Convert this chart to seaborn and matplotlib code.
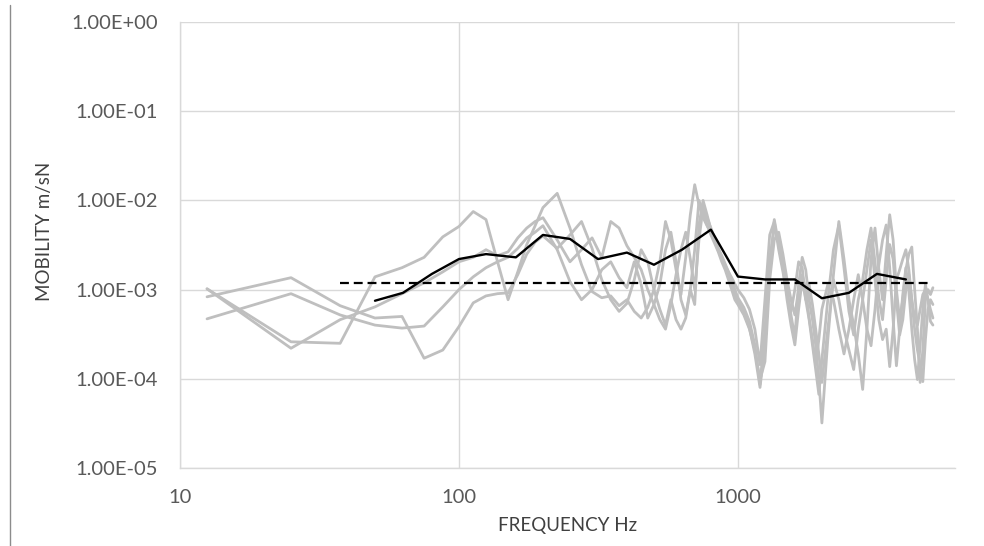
import matplotlib
matplotlib.use("Agg")
import matplotlib.pyplot as plt
from matplotlib.lines import Line2D
from matplotlib.ticker import FixedLocator, FixedFormatter, NullLocator
import numpy as np
import pandas as pd
import seaborn as sns

# Narrowband frequency grid shared by the individual measurements (Hz)
freq_hz = [
    12.5, 25, 37.5, 50, 62.5, 75, 87.5, 100, 112.5, 125, 137.5, 150, 162.5, 175, 187.5, 200,
    225, 250, 275, 300, 325, 350, 375, 400, 425, 450, 475, 500,
    525, 550, 575, 600, 625, 650, 675, 700, 725, 750, 775, 800, 825, 850, 875, 900, 925, 950, 975, 1000,
    1050, 1100, 1150, 1200, 1250, 1300, 1350, 1400, 1450, 1500, 1550, 1600, 1650, 1700, 1750, 1800,
    1850, 1900, 1950, 2000,
    2100, 2200, 2300, 2400, 2500, 2600, 2700, 2800, 2900, 3000, 3100, 3200, 3300, 3400, 3500, 3600,
    3700, 3800, 3900, 4000, 4100, 4200, 4300, 4400, 4500, 4600, 4700, 4800, 4900, 5000,
]

# Individual mobility measurements (m/sN)
meas_a = [
    1.02e-3, 2.6e-4, 2.5e-4, 1.39e-3, 1.76e-3, 2.3e-3, 3.9e-3, 5.1e-3, 7.5e-3, 6.1e-3, 2.05e-3, 7.7e-4, 1.58e-3, 3.2e-3, 5.2e-3, 8.3e-3,
    1.2e-2, 4.9e-3, 1.9e-3, 9.5e-4, 8.1e-4, 8.5e-4, 6.6e-4, 7.7e-4, 5.7e-4, 4.8e-4, 6.3e-4, 1.0e-3,
    2.05e-3, 5.8e-3, 3.6e-3, 1.67e-3, 8.8e-4, 2.3e-3, 6.9e-3, 1.5e-2, 8.9e-3, 6.4e-3, 5.2e-3, 4.4e-3, 3.6e-3, 2.9e-3, 2.4e-3, 1.95e-3, 1.58e-3, 1.26e-3, 1.0e-3, 8.1e-4,
    6.3e-4, 4.4e-4, 2.4e-4, 8.6e-5, 3.6e-4, 2.2e-3, 4.9e-3, 3.8e-3, 2.05e-3, 1.0e-3, 5.2e-4, 2.9e-4, 1.14e-3, 2.3e-3, 1.67e-3, 7.7e-4,
    4.6e-4, 2.4e-4, 9.8e-5, 3.2e-5,
    2.75e-4, 1.47e-3, 5.8e-3, 2.2e-3, 7.7e-4, 4.0e-4, 1.9e-4, 7.6e-5, 3.6e-4, 2.2e-3, 4.9e-3, 1.67e-3, 7.7e-4, 2.5e-3, 6.9e-3, 3.6e-3,
    1.0e-3, 4.6e-4, 7.7e-4, 1.67e-3, 2.5e-3, 3.0e-3, 1.0e-3, 3.6e-4, 9.1e-5, 2.1e-4, 7.7e-4, 1.0e-3, 8.8e-4, 1.05e-3,
]
meas_b = [
    1.02e-3, 2.2e-4, 4.6e-4, 6.4e-4, 9.0e-4, 1.19e-3, 1.58e-3, 2.05e-3, 2.3e-3, 2.8e-3, 2.4e-3, 2.65e-3, 3.8e-3, 4.9e-3, 5.8e-3, 6.4e-3,
    3.6e-3, 2.05e-3, 2.8e-3, 3.8e-3, 2.3e-3, 5.8e-3, 4.9e-3, 3.1e-3, 2.3e-3, 1.67e-3, 1.0e-3, 6.8e-4,
    4.6e-4, 3.6e-4, 6.8e-4, 1.47e-3, 2.8e-3, 4.4e-3, 2.2e-3, 1.0e-3, 3.6e-3, 8.3e-3, 6.4e-3, 4.9e-3, 3.8e-3, 2.8e-3, 2.3e-3, 1.85e-3, 1.58e-3, 1.36e-3, 1.16e-3, 1.0e-3,
    8.1e-4, 6.0e-4, 3.6e-4, 1.44e-4, 7.7e-4, 4.1e-3, 5.8e-3, 2.8e-3, 1.58e-3, 8.8e-4, 5.7e-4, 1.0e-3, 2.05e-3, 1.76e-3, 7.7e-4, 4.6e-4,
    2.4e-4, 1.27e-4, 6.7e-5, 1.64e-4,
    7.7e-4, 2.8e-3, 5.3e-3, 1.76e-3, 5.7e-4, 3.1e-4, 7.7e-4, 1.29e-3, 2.8e-3, 4.9e-3, 2.05e-3, 8.1e-4, 4.6e-4, 1.29e-3, 3.2e-3, 2.2e-3,
    7.7e-4, 3.1e-4, 4.6e-4, 1.0e-3, 1.47e-3, 7.7e-4, 4.8e-4, 4.0e-4, 6.0e-4, 8.8e-4, 1.0e-3, 7.7e-4, 6.0e-4, 4.8e-4,
]
meas_c = [
    4.7e-4, 9.0e-4, 5.2e-4, 4.0e-4, 3.7e-4, 3.9e-4, 6.4e-4, 1.0e-3, 1.39e-3, 1.76e-3, 2.05e-3, 2.3e-3, 2.9e-3, 3.8e-3, 4.4e-3, 5.2e-3,
    2.8e-3, 1.23e-3, 7.7e-4, 1.0e-3, 1.67e-3, 2.05e-3, 1.36e-3, 1.05e-3, 2.05e-3, 1.14e-3, 4.8e-4, 6.8e-4,
    1.14e-3, 2.8e-3, 4.4e-3, 2.05e-3, 7.7e-4, 5.2e-4, 1.0e-3, 2.8e-3, 1.0e-2, 7.5e-3, 5.3e-3, 4.1e-3, 3.3e-3, 2.65e-3, 2.05e-3, 1.67e-3, 1.29e-3, 1.0e-3, 7.7e-4, 6.8e-4,
    5.2e-4, 3.6e-4, 2.1e-4, 9.8e-5, 1.56e-4, 1.29e-3, 3.6e-3, 4.4e-3, 2.5e-3, 1.29e-3, 7.7e-4, 5.2e-4, 1.0e-3, 1.47e-3, 1.0e-3, 4.8e-4,
    2.75e-4, 1.44e-4, 2.75e-4, 6.0e-4,
    1.14e-3, 7.7e-4, 3.6e-4, 1.9e-4, 3.6e-4, 7.7e-4, 1.47e-3, 7.7e-4, 3.6e-4, 2.35e-4, 6.0e-4, 1.9e-3, 3.6e-3, 5.3e-3, 1.76e-3, 4.6e-4,
    1.4e-4, 3.6e-4, 8.8e-4, 1.76e-3, 9.5e-4, 3.6e-4, 1.64e-4, 9.8e-5, 2.4e-4, 6.0e-4, 1.14e-3, 7.7e-4, 4.4e-4, 4.0e-4,
]
meas_d = [
    8.3e-4, 1.36e-3, 6.6e-4, 4.8e-4, 5.0e-4, 1.7e-4, 2.1e-4, 3.85e-4, 7.1e-4, 8.5e-4, 9.0e-4, 9.2e-4, 1.47e-3, 2.5e-3, 3.4e-3, 4.0e-3,
    2.9e-3, 4.1e-3, 5.8e-3, 2.9e-3, 1.29e-3, 7.7e-4, 5.7e-4, 7.0e-4, 1.29e-3, 2.8e-3, 2.05e-3, 1.0e-3,
    6.0e-4, 4.0e-4, 7.7e-4, 4.6e-4, 3.6e-4, 4.8e-4, 1.0e-3, 6.8e-4, 5.3e-3, 1.0e-2, 6.9e-3, 4.7e-3, 3.6e-3, 2.8e-3, 2.3e-3, 1.76e-3, 1.43e-3, 1.11e-3, 8.8e-4, 7.3e-4,
    5.7e-4, 3.7e-4, 1.9e-4, 8.0e-5, 2.4e-4, 1.67e-3, 6.1e-3, 3.2e-3, 1.76e-3, 7.7e-4, 4.0e-4, 2.4e-4, 6.0e-4, 1.29e-3, 7.7e-4, 1.14e-3,
    6.8e-4, 3.6e-4, 1.9e-4, 9.1e-5,
    3.6e-4, 1.29e-3, 7.7e-4, 3.6e-4, 2.1e-4, 1.27e-4, 3.6e-4, 7.7e-4, 1.67e-3, 3.6e-3, 1.29e-3, 4.6e-4, 2.75e-4, 3.6e-4, 1.37e-4, 3.6e-4,
    1.29e-3, 1.67e-3, 2.2e-3, 2.8e-3, 1.67e-3, 7.7e-4, 3.6e-4, 2.1e-4, 1.44e-4, 9.3e-5, 2.75e-4, 6.0e-4, 7.7e-4, 6.8e-4,
]

# One-third-octave band average (m/sN)
band_hz = [50, 63, 80, 100, 125, 160, 200, 250, 315, 400, 500, 630, 800, 1000, 1250, 1600, 2000, 2500, 3150, 4000]
band_mean = [7.5e-4, 9.2e-4, 1.5e-3, 2.2e-3, 2.5e-3, 2.3e-3, 4.1e-3, 3.7e-3, 2.2e-3, 2.6e-3, 1.9e-3, 2.8e-3,
             4.7e-3, 1.4e-3, 1.3e-3, 1.3e-3, 8.0e-4, 9.2e-4, 1.5e-3, 1.3e-3]

# Reference mobility level (m/sN) over its frequency span (Hz)
ref_hz = [37.5, 4875]
ref_level = [1.2e-3, 1.2e-3]

x_ticks = [10, 100, 1000]
x_tick_labels = ["10", "100", "1000"]
y_ticks = [1e-5, 1e-4, 1e-3, 1e-2, 1e-1, 1e0]
y_tick_labels = ["1.00E-05", "1.00E-04", "1.00E-03", "1.00E-02", "1.00E-01", "1.00E+00"]

sns.set_style("white")
plt.rcParams["font.family"] = ["Lato", "DejaVu Sans"]

fig = plt.figure(figsize=(9.84, 5.46), dpi=100)
ax = fig.add_axes([180 / 984, 1 - 468 / 546, (955 - 180) / 984, (468 - 22) / 546])

measurements = pd.DataFrame({
    "freq": freq_hz * 4,
    "mobility": meas_a + meas_b + meas_c + meas_d,
    "run": ["a"] * len(freq_hz) + ["b"] * len(freq_hz) + ["c"] * len(freq_hz) + ["d"] * len(freq_hz),
})
sns.lineplot(data=measurements, x="freq", y="mobility", hue="run", units="run", estimator=None,
             palette=["#bfbfbf"] * 4, linewidth=2.0, legend=False, ax=ax, sort=False)

sns.lineplot(x=ref_hz, y=ref_level, color="black", linewidth=1.6, ax=ax)
ax.lines[-1].set_dashes((4, 2.2))
sns.lineplot(x=band_hz, y=band_mean, color="black", linewidth=1.7, ax=ax)

ax.set_xscale("log")
ax.set_yscale("log")
ax.set_xlim(10, 6000)
ax.set_ylim(1e-5, 1)

ax.xaxis.set_major_locator(FixedLocator(x_ticks))
ax.xaxis.set_major_formatter(FixedFormatter(x_tick_labels))
ax.xaxis.set_minor_locator(NullLocator())
ax.yaxis.set_major_locator(FixedLocator(y_ticks))
ax.yaxis.set_major_formatter(FixedFormatter(y_tick_labels))
ax.yaxis.set_minor_locator(NullLocator())

ax.grid(True, which="major", color="#d9d9d9", linewidth=1.0)
ax.set_axisbelow(True)
for side, sp in ax.spines.items():
    sp.set_visible(side == "left" or side == "bottom")
    sp.set_color("#d9d9d9")
    sp.set_linewidth(1.0)

ax.tick_params(axis="both", length=0, labelsize=14.5, labelcolor="#595959")
ax.tick_params(axis="y", pad=16)
ax.tick_params(axis="x", pad=15)

ax.set_xlabel("FREQUENCY Hz", fontsize=13.5, color="#404040", labelpad=8)
ax.set_ylabel("MOBILITY m/sN", fontsize=13.5, color="#404040")
ax.yaxis.set_label_coords(-0.164, 0.531)

# thin frame edge along the left of the figure
fig.add_artist(Line2D([9.5 / 984, 9.5 / 984], [0, 1 - 5 / 546], transform=fig.transFigure,
                      color="#8c8c8c", linewidth=1.0))

fig.savefig("out.png", dpi=100)
